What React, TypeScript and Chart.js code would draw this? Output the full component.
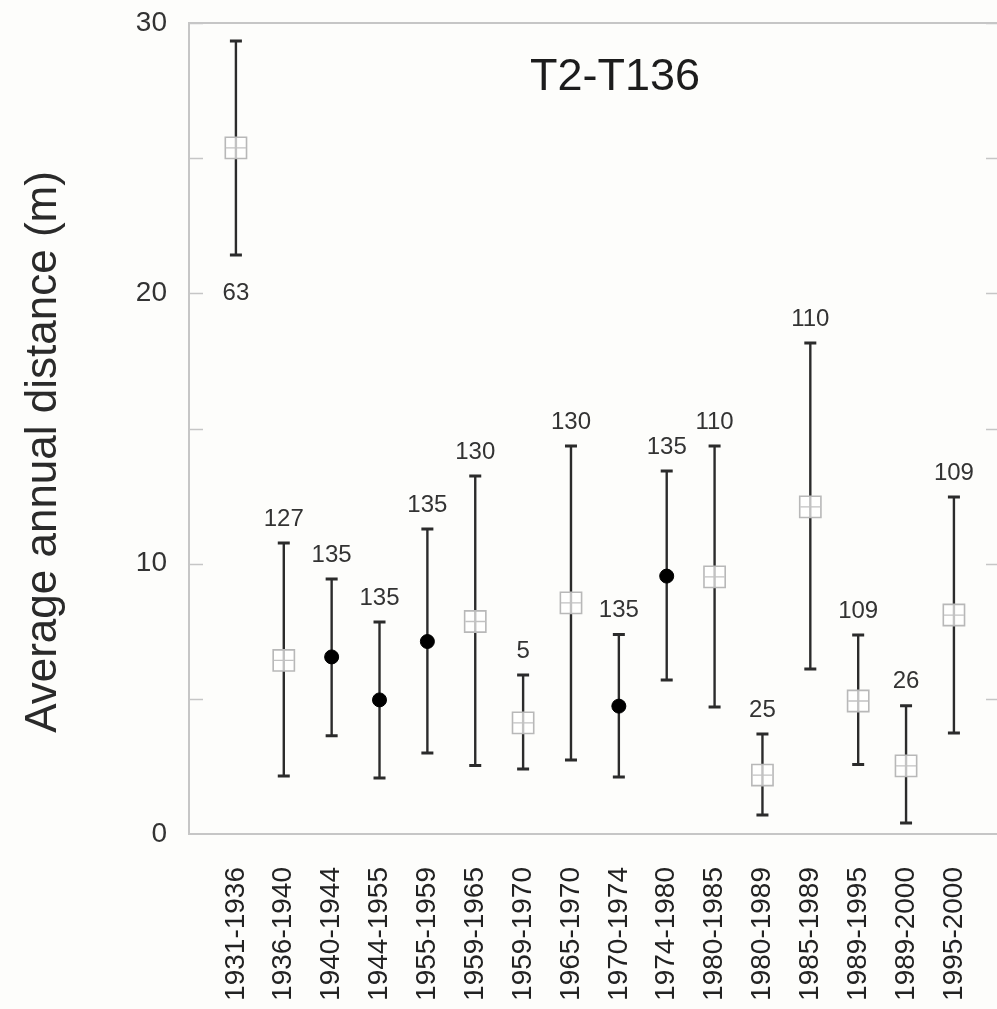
import React, { useEffect, useRef } from "react";
import { Chart, registerables } from "chart.js";

Chart.register(...registerables);

const chartTitle = "T2-T136";
const yAxisTitle = "Average annual distance (m)";

const periods = [
  "1931-1936", "1936-1940", "1940-1944", "1944-1955", "1955-1959", "1959-1965",
  "1959-1970", "1965-1970", "1970-1974", "1974-1980", "1980-1985", "1980-1989",
  "1985-1989", "1989-1995", "1989-2000", "1995-2000",
];
const means = [25.38, 6.42, 6.55, 4.96, 7.12, 7.86, 4.11, 8.55, 4.73, 9.54, 9.51, 2.18, 12.1, 4.92, 2.52, 8.1];
const upper = [29.33, 10.76, 9.43, 7.84, 11.28, 13.24, 5.88, 14.35, 7.38, 13.43, 14.35, 3.7, 18.16, 7.36, 4.74, 12.47];
const lower = [21.42, 2.15, 3.63, 2.07, 3.0, 2.53, 2.4, 2.74, 2.11, 5.7, 4.7, 0.7, 6.1, 2.57, 0.41, 3.74];
const counts = ["63", "127", "135", "135", "135", "130", "5", "130", "135", "135", "110", "25", "110", "109", "26", "109"];
// "open" = hollow square marker, "filled" = solid black circle
const markerKind = [
  "open", "open", "filled", "filled", "filled", "open", "open", "open",
  "filled", "filled", "open", "open", "open", "open", "open", "open",
];
const yTickValues = [0, 10, 20, 30];

const FONT = '"Liberation Sans", Arial, Helvetica, sans-serif';

export default function App() {
  const ref = useRef<HTMLCanvasElement | null>(null);

  useEffect(() => {
    document.body.style.margin = "0";
    document.body.style.background = "#fdfdfb";
    const canvas = ref.current;
    if (!canvas) return;

    const openPts = periods
      .map((_, i) => ({ x: i, y: means[i] }))
      .filter((_, i) => markerKind[i] === "open");
    const filledPts = periods
      .map((_, i) => ({ x: i, y: means[i] }))
      .filter((_, i) => markerKind[i] === "filled");

    const decorations = {
      id: "decorations",
      beforeDatasetsDraw(chart: any) {
        const { ctx, chartArea, scales } = chart;
        const x = scales.x;
        const y = scales.y;
        ctx.save();
        // top frame line
        ctx.strokeStyle = "#c6c6c6";
        ctx.lineWidth = 2;
        ctx.beginPath();
        ctx.moveTo(chartArea.left, chartArea.top);
        ctx.lineTo(chartArea.right, chartArea.top);
        ctx.stroke();
        // inward ticks left & right
        ctx.lineWidth = 1.5;
        for (let v = 5; v <= 30; v += 5) {
          const py = Math.round(y.getPixelForValue(v)) + 0.5;
          ctx.beginPath();
          ctx.moveTo(chartArea.left, py);
          ctx.lineTo(chartArea.left + 14, py);
          ctx.moveTo(chartArea.right - 11, py);
          ctx.lineTo(chartArea.right, py);
          ctx.stroke();
        }
        // error bars
        ctx.strokeStyle = "#2b2b2b";
        periods.forEach((_, i) => {
          const px = x.getPixelForValue(i);
          const pt = y.getPixelForValue(upper[i]);
          const pb = y.getPixelForValue(lower[i]);
          ctx.lineWidth = 2.4;
          ctx.beginPath();
          ctx.moveTo(px, pt);
          ctx.lineTo(px, pb);
          ctx.stroke();
          ctx.lineWidth = 3;
          ctx.beginPath();
          ctx.moveTo(px - 6, pt);
          ctx.lineTo(px + 6, pt);
          ctx.moveTo(px - 6, pb);
          ctx.lineTo(px + 6, pb);
          ctx.stroke();
        });
        ctx.restore();
      },
      afterDatasetsDraw(chart: any) {
        const { ctx, chartArea, scales } = chart;
        const x = scales.x;
        const y = scales.y;
        ctx.save();
        // count labels
        ctx.fillStyle = "#333";
        ctx.font = `24px ${FONT}`;
        ctx.textAlign = "center";
        ctx.textBaseline = "middle";
        periods.forEach((_, i) => {
          const px = x.getPixelForValue(i);
          let py = y.getPixelForValue(upper[i]) - 24;
          if (py - 12 < chartArea.top) py = y.getPixelForValue(lower[i]) + 38;
          ctx.fillText(counts[i], px, py);
        });
        // chart title
        ctx.fillStyle = "#1c1c1c";
        ctx.font = `45px ${FONT}`;
        ctx.textBaseline = "alphabetic";
        ctx.fillText(chartTitle, 615, 90);
        // y axis title
        ctx.translate(44, 452);
        ctx.rotate(-Math.PI / 2);
        ctx.textBaseline = "middle";
        ctx.fillStyle = "#2a2a2a";
        ctx.font = `44px ${FONT}`;
        ctx.fillText(yAxisTitle, 0, 0);
        ctx.restore();
      },
    };

    const chart = new Chart(canvas, {
      type: "scatter",
      data: {
        datasets: [
          {
            data: openPts,
            pointStyle: "cross",
            radius: 10,
            borderColor: "#c2c2c2",
            borderWidth: 1.3,
            backgroundColor: "transparent",
          },
          {
            data: openPts,
            pointStyle: "rect",
            radius: 15,
            borderColor: "#b8b8b8",
            borderWidth: 1.6,
            backgroundColor: "rgba(255,255,255,0.72)",
          },
          {
            data: filledPts,
            pointStyle: "circle",
            radius: 7,
            borderColor: "#000",
            borderWidth: 1,
            backgroundColor: "#000",
          },
        ],
      },
      options: {
        responsive: false,
        animation: false,
        devicePixelRatio: 1,
        layout: { autoPadding: false, padding: { top: 23, right: 0, left: 0, bottom: 0 } },
        plugins: {
          legend: { display: false },
          tooltip: { enabled: false },
          title: { display: false },
        },
        scales: {
          x: {
            type: "linear",
            min: -0.98,
            max: 15.9,
            grid: { display: false, drawTicks: false },
            border: { display: true, color: "#c6c6c6", width: 2 },
            afterBuildTicks: (s: any) => {
              s.ticks = periods.map((_, i) => ({ value: i }));
            },
            afterFit: (s: any) => {
              s.height = 175;
              s.paddingLeft = 0;
              s.paddingRight = 0;
            },
            ticks: {
              autoSkip: false,
              minRotation: 90,
              maxRotation: 90,
              padding: 33,
              color: "#222",
              font: { family: FONT, size: 28 },
              callback: (v: any) => periods[Number(v)] ?? "",
            },
          },
          y: {
            type: "linear",
            min: 0,
            max: 30,
            grid: { display: false, drawTicks: false },
            border: { display: true, color: "#c6c6c6", width: 2 },
            afterBuildTicks: (s: any) => {
              s.ticks = yTickValues.map((v) => ({ value: v }));
            },
            afterFit: (s: any) => {
              s.width = 189;
              s.paddingTop = 0;
              s.paddingBottom = 0;
            },
            ticks: {
              padding: 22,
              color: "#333",
              font: { family: FONT, size: 28 },
            },
          },
        },
      },
      plugins: [decorations],
    });

    return () => chart.destroy();
  }, []);

  return (
    <div style={{ width: 997, height: 1009, overflow: "hidden", background: "#fdfdfb" }}>
      <canvas ref={ref} width={997} height={1009} style={{ display: "block" }} />
    </div>
  );
}
